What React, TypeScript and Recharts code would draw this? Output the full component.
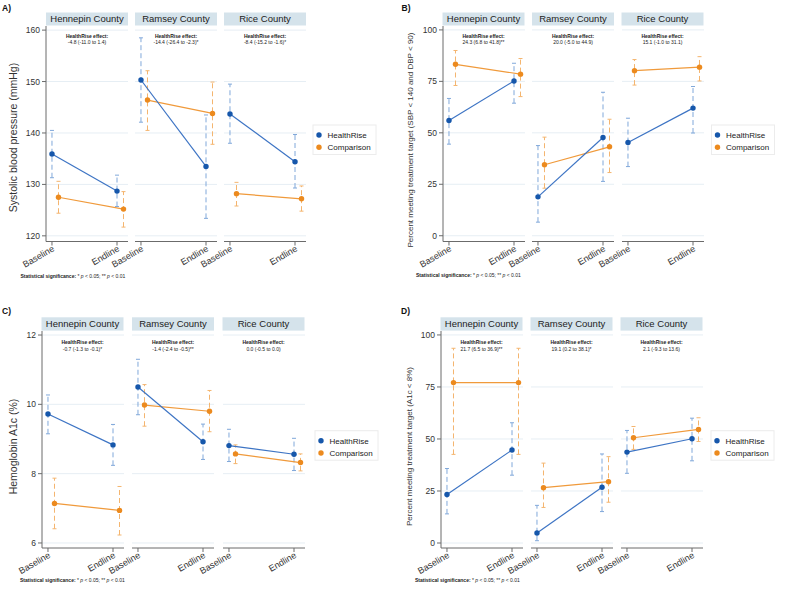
import React from 'react';
import { ScatterChart, Scatter, XAxis, YAxis, CartesianGrid, ErrorBar } from 'recharts';

// ---------- shared labels ----------
const counties = ['Hennepin County', 'Ramsey County', 'Rice County'];
const timeLabels = ['Baseline', 'Endline'];
const seriesNames = ['HealthRise', 'Comparison'];
const noteLead = 'Statistical significance:';

// ---------- Panel A: systolic blood pressure (order: Hennepin B/E, Ramsey B/E, Rice B/E) ----------
const sbpTicks = [120, 130, 140, 150, 160];
const sbpHR = [135.9, 128.7, 150.3, 133.5, 143.7, 134.4];
const sbpHRLow = [131.3, 125.7, 142.1, 123.4, 138.0, 129.3];
const sbpHRHigh = [140.5, 131.8, 158.5, 143.5, 149.5, 139.7];
const sbpCmp = [127.5, 125.2, 146.4, 143.8, 128.2, 127.2];
const sbpCmpLow = [124.4, 121.7, 140.5, 137.8, 125.8, 124.8];
const sbpCmpHigh = [130.6, 128.6, 152.1, 149.9, 130.4, 129.7];
const sbpEffects = ['-4.8 (-11.0 to 1.4)', '-14.4 (-26.4 to -2.3)*', '-8.4 (-15.2 to -1.6)*'];

// ---------- Panel B: % meeting BP target ----------
const bpTicks = [0, 25, 50, 75, 100];
const bpHR = [56.0, 75.2, 18.9, 47.7, 45.3, 62.0];
const bpHRLow = [44.5, 64.4, 6.6, 26.4, 33.6, 49.9];
const bpHRHigh = [66.7, 83.8, 43.8, 69.7, 57.1, 72.5];
const bpCmp = [83.3, 78.5, 34.5, 43.2, 80.2, 81.9];
const bpCmpLow = [73.0, 67.6, 23.1, 30.7, 73.2, 75.2];
const bpCmpHigh = [90.0, 86.1, 47.9, 56.6, 85.6, 87.0];
const bpEffects = ['24.3 (6.8 to 41.8)**', '20.0 (-5.0 to 44.9)', '15.1 (-1.0 to 31.1)'];

// ---------- Panel C: HbA1c ----------
const a1cTicks = [6, 8, 10, 12];
const a1cHR = [9.72, 8.83, 10.5, 8.92, 8.81, 8.56];
const a1cHRLow = [9.15, 8.24, 9.7, 8.41, 8.35, 8.09];
const a1cHRHigh = [10.27, 9.42, 11.3, 9.43, 9.28, 9.02];
const a1cCmp = [7.14, 6.94, 9.98, 9.8, 8.57, 8.32];
const a1cCmpLow = [6.41, 6.23, 9.37, 9.21, 8.29, 8.08];
const a1cCmpHigh = [7.87, 7.63, 10.57, 10.4, 8.83, 8.57];
const a1cEffects = ['-0.7 (-1.3 to -0.1)*', '-1.4 (-2.4 to -0.5)**', '0.0 (-0.5 to 0.0)'];

// ---------- Panel D: % meeting A1c target ----------
const glyTicks = [0, 25, 50, 75, 100];
const glyHR = [23.3, 44.7, 4.8, 26.8, 43.7, 50.1];
const glyHRLow = [14.0, 32.6, 1.1, 15.1, 33.5, 39.5];
const glyHRHigh = [35.8, 57.8, 18.1, 42.8, 54.1, 60.0];
const glyCmp = [77.1, 77.1, 26.6, 29.5, 50.6, 54.6];
const glyCmpLow = [42.6, 42.6, 17.1, 19.6, 45.0, 48.8];
const glyCmpHigh = [93.6, 93.6, 38.4, 41.5, 56.0, 60.2];
const glyEffects = ['21.7 (6.5 to 36.9)**', '19.1 (0.2 to 38.1)*', '2.1 (-9.3 to 13.6)'];

// ---------- styles ----------
const FONT = '"Liberation Sans", Arial, Helvetica, sans-serif';
const HR_PT = '#1657ab';
const HR_LINE = '#3d74c4';
const HR_ERR = '#80a8da';
const CMP_PT = '#ec8a1e';
const CMP_LINE = '#f09a3b';
const CMP_ERR = '#f4b56f';
const GRID = '#e6eef4';
const AXIS = '#6b6b6b';
const STRIP = '#d5e3eb';
const TEXT = '#333333';
const FACET_W = 82;
const PAD_L = 40;
const X_DOMAIN = [-0.092, 1.169];
const CMP_SHIFT = 0.1;

type Geo = {
  letter: string; letterX: number; letterY: number;
  facetX: number[]; plotTop: number; plotH: number; domain: number[];
  stripY: number; stripH: number; effY: number;
  yLabel: string; yLabelX: number; yLabelY: number; yLabelSize: number;
  legendX: number; legendY: number; noteX: number; noteY: number;
};

type PanelData = {
  ticks: number[]; hr: number[]; hrLo: number[]; hrHi: number[];
  cmp: number[]; cmpLo: number[]; cmpHi: number[]; effects: string[];
};

const panels: { geo: Geo; data: PanelData }[] = [
  {
    geo: {
      letter: 'A)', letterX: 2, letterY: 11, facetX: [46, 135, 224], plotTop: 26, plotH: 215.5,
      domain: [118.9, 160.8], stripY: 12.5, stripH: 13, effY: 37.5,
      yLabel: 'Systolic blood pressure (mmHg)', yLabelX: 16.5, yLabelY: 137.5, yLabelSize: 10.5,
      legendX: 313, legendY: 125, noteX: 20.5, noteY: 277.5,
    },
    data: { ticks: sbpTicks, hr: sbpHR, hrLo: sbpHRLow, hrHi: sbpHRHigh, cmp: sbpCmp, cmpLo: sbpCmpLow, cmpHi: sbpCmpHigh, effects: sbpEffects },
  },
  {
    geo: {
      letter: 'B)', letterX: 401.5, letterY: 11, facetX: [442.5, 532, 621.5], plotTop: 26, plotH: 215.5,
      domain: [-2.8, 101.9], stripY: 12.5, stripH: 13, effY: 37.5,
      yLabel: 'Percent meeting treatment target (SBP < 140 and DBP < 90)', yLabelX: 413, yLabelY: 140, yLabelSize: 8,
      legendX: 711.5, legendY: 125, noteX: 416, noteY: 276.5,
    },
    data: { ticks: bpTicks, hr: bpHR, hrLo: bpHRLow, hrHi: bpHRHigh, cmp: bpCmp, cmpLo: bpCmpLow, cmpHi: bpCmpHigh, effects: bpEffects },
  },
  {
    geo: {
      letter: 'C)', letterX: 2, letterY: 314, facetX: [41.5, 132, 222.5], plotTop: 330.5, plotH: 217,
      domain: [5.855, 12.116], stripY: 317.3, stripH: 13.3, effY: 344,
      yLabel: 'Hemoglobin A1c (%)', yLabelX: 16.5, yLabelY: 446.5, yLabelSize: 10.5,
      legendX: 315, legendY: 430.7, noteX: 20, noteY: 581.5,
    },
    data: { ticks: a1cTicks, hr: a1cHR, hrLo: a1cHRLow, hrHi: a1cHRHigh, cmp: a1cCmp, cmpLo: a1cCmpLow, cmpHi: a1cCmpHigh, effects: a1cEffects },
  },
  {
    geo: {
      letter: 'D)', letterX: 401, letterY: 314, facetX: [440.5, 530.5, 620.5], plotTop: 330.5, plotH: 217,
      domain: [-2.4, 101.9], stripY: 317.3, stripH: 13.3, effY: 344,
      yLabel: 'Percent meeting treatment target (A1c < 8%)', yLabelX: 412, yLabelY: 446.5, yLabelSize: 8,
      legendX: 711, legendY: 430.7, noteX: 415, noteY: 582,
    },
    data: { ticks: glyTicks, hr: glyHR, hrLo: glyHRLow, hrHi: glyHRHigh, cmp: glyCmp, cmpLo: glyCmpLow, cmpHi: glyCmpHigh, effects: glyEffects },
  },
];

function rows(mean: number[], lo: number[], hi: number[], facet: number, shift: number) {
  return [0, 1].map((t) => {
    const i = facet * 2 + t;
    return { x: t + shift, t, y: mean[i], err: [mean[i] - lo[i], hi[i] - mean[i]] };
  });
}

const TimeTick = (props: any) => {
  const { x, y, payload } = props;
  const tx = x + 3;
  const ty = y + 5;
  return (
    <text x={tx} y={ty} transform={`rotate(-30 ${tx} ${ty})`} textAnchor="end" fontSize={9} fill={TEXT} fontFamily={FONT}>
      {timeLabels[Math.round(payload.value)]}
    </text>
  );
};

const dot = (color: string) => (p: any) => <circle cx={p.cx} cy={p.cy} r={2.7} fill={color} />;

function Facet({ geo, data, f }: { geo: Geo; data: PanelData; f: number }) {
  const showY = f === 0;
  const hrRows = rows(data.hr, data.hrLo, data.hrHi, f, 0);
  const cmpRows = rows(data.cmp, data.cmpLo, data.cmpHi, f, CMP_SHIFT);
  return (
    <div style={{ position: 'absolute', left: geo.facetX[f] - PAD_L, top: geo.plotTop }}>
      <ScatterChart
        width={PAD_L + FACET_W}
        height={geo.plotH + 40}
        margin={{ top: 0, right: 0, bottom: 0, left: showY ? 0 : PAD_L }}
      >
        <CartesianGrid horizontal vertical={false} horizontalValues={data.ticks} stroke={GRID} strokeWidth={1} />
        <XAxis
          type="number" dataKey="x" domain={X_DOMAIN} ticks={[0, 1]} allowDataOverflow interval={0}
          height={40} tickSize={4} tickMargin={0} tick={<TimeTick />}
          axisLine={{ stroke: AXIS }} tickLine={{ stroke: AXIS }}
        />
        <YAxis
          type="number" dataKey="y" domain={geo.domain} ticks={data.ticks} allowDataOverflow interval={0}
          hide={!showY} width={PAD_L} tickSize={4} tickMargin={2}
          tick={{ fontSize: 8.5, fill: TEXT, fontFamily: FONT }}
          axisLine={{ stroke: AXIS }} tickLine={{ stroke: AXIS }}
        />
        <Scatter
          name={seriesNames[1]} data={cmpRows} fill={CMP_PT} shape={dot(CMP_PT)}
          line={{ stroke: CMP_LINE, strokeWidth: 1.2 }} lineType="joint" isAnimationActive={false}
        >
          <ErrorBar dataKey="err" direction="y" width={2} stroke={CMP_ERR} strokeWidth={1} strokeDasharray="5 3" isAnimationActive={false} />
        </Scatter>
        <Scatter
          name={seriesNames[0]} data={hrRows} fill={HR_PT} shape={dot(HR_PT)}
          line={{ stroke: HR_LINE, strokeWidth: 1.2 }} lineType="joint" isAnimationActive={false}
        >
          <ErrorBar dataKey="err" direction="y" width={2} stroke={HR_ERR} strokeWidth={1} strokeDasharray="5 3" isAnimationActive={false} />
        </Scatter>
      </ScatterChart>
    </div>
  );
}

function Overlay() {
  return (
    <svg width={787} height={589} style={{ position: 'absolute', left: 0, top: 0, pointerEvents: 'none' }} fontFamily={FONT}>
      {panels.map(({ geo, data }, pi) => (
        <g key={pi}>
          <text x={geo.letterX} y={geo.letterY} fontSize={8.5} fontWeight="bold" fill="#111">{geo.letter}</text>
          {counties.map((c, f) => (
            <g key={c}>
              <rect x={geo.facetX[f]} y={geo.stripY} width={FACET_W} height={geo.stripH} fill={STRIP} />
              <text x={geo.facetX[f] + FACET_W / 2} y={geo.stripY + geo.stripH / 2 + 3.4} fontSize={9.5} textAnchor="middle" fill="#222">{c}</text>
              <text x={geo.facetX[f] + FACET_W / 2} y={geo.effY} fontSize={5} fontWeight="bold" textAnchor="middle" fill="#222">HealthRise effect:</text>
              <text x={geo.facetX[f] + FACET_W / 2} y={geo.effY + 6.5} fontSize={5} textAnchor="middle" fill="#222">{data.effects[f]}</text>
            </g>
          ))}
          <text
            x={geo.yLabelX} y={geo.yLabelY} fontSize={geo.yLabelSize} textAnchor="middle" fill={TEXT}
            transform={`rotate(-90 ${geo.yLabelX} ${geo.yLabelY})`}
          >{geo.yLabel}</text>
          <rect x={geo.legendX} y={geo.legendY} width={63} height={29.5} fill="#fff" stroke="#ececec" strokeWidth={1} />
          {seriesNames.map((s, si) => (
            <g key={s}>
              <circle cx={geo.legendX + 6} cy={geo.legendY + 10 + si * 12.3} r={2.7} fill={si === 0 ? HR_PT : CMP_PT} />
              <text x={geo.legendX + 14.5} y={geo.legendY + 13 + si * 12.3} fontSize={8} fill="#222">{s}</text>
            </g>
          ))}
          <text x={geo.noteX} y={geo.noteY} fontSize={5} fill="#222">
            <tspan fontWeight="bold">{noteLead}</tspan>
            <tspan> * </tspan><tspan fontStyle="italic">p</tspan><tspan> &lt; 0.05; ** </tspan>
            <tspan fontStyle="italic">p</tspan><tspan> &lt; 0.01</tspan>
          </text>
        </g>
      ))}
    </svg>
  );
}

export default function App() {
  return (
    <div style={{ position: 'absolute', left: 0, top: 0, width: 787, height: 589, background: '#fff', fontFamily: FONT, overflow: 'hidden' }}>
      {panels.map(({ geo, data }, pi) =>
        [0, 1, 2].map((f) => <Facet key={`${pi}-${f}`} geo={geo} data={data} f={f} />)
      )}
      <Overlay />
    </div>
  );
}
